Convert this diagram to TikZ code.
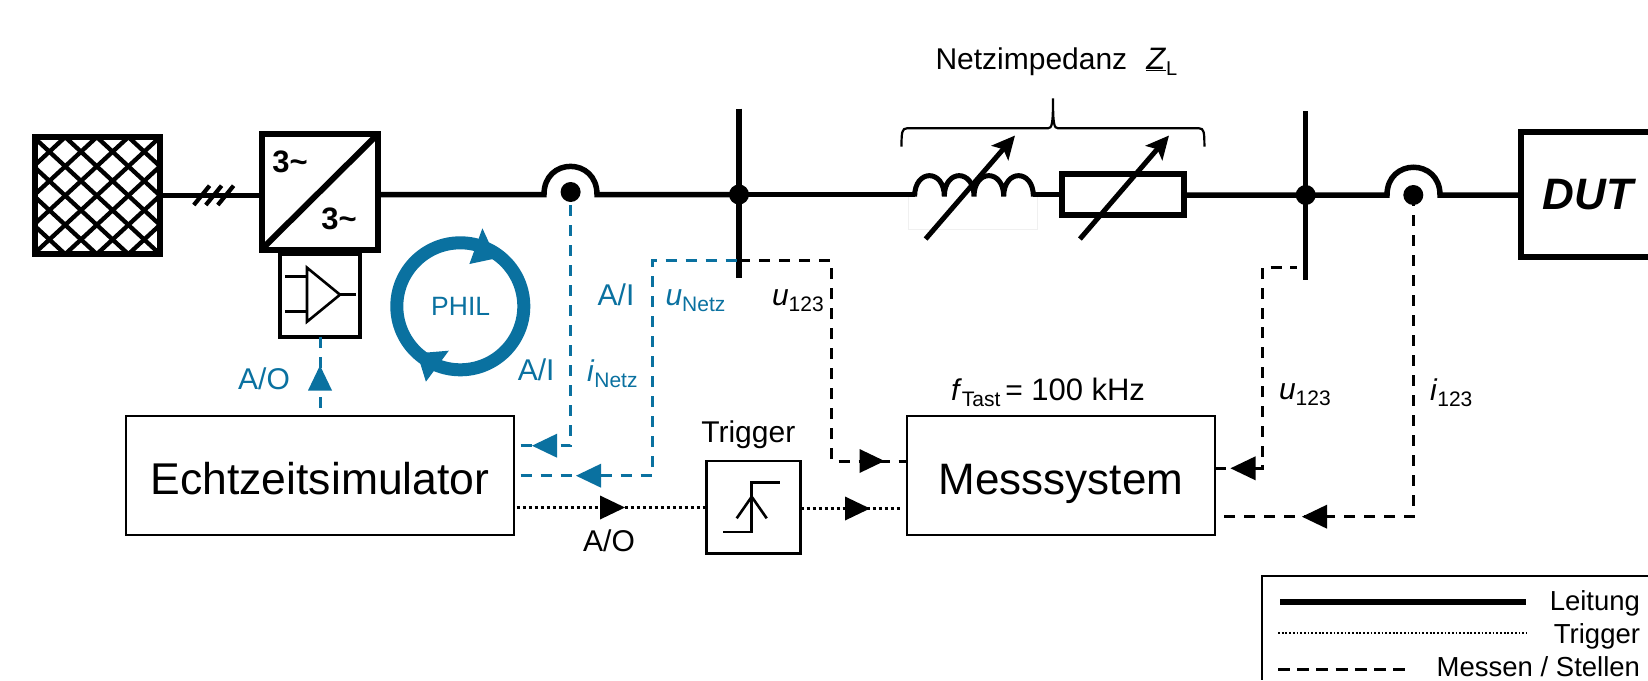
\documentclass[tikz,border=0pt]{standalone}
\usepackage{fontspec}
\setmainfont{Liberation Sans}
\usetikzlibrary{arrows.meta}
\definecolor{philblue}{HTML}{0A71A0}
\newcommand{\fs}[1]{\fontsize{#1}{#1}\selectfont}
\newcommand{\vsub}[2]{\textit{#1}\raisebox{-6.5pt}{\fs{21}#2}}
\tikzset{
  power/.style={line width=5.5pt,black},
  thick box/.style={draw=black,line width=6pt},
  frame box/.style={draw,line width=2.8pt,inner sep=0pt,outer sep=0pt},
  sym/.style={line width=2.6pt,black},
  meas/.style={line width=3pt,dash pattern=on 11pt off 9pt},
  trigline/.style={line width=3.2pt,dash pattern=on 2.8pt off 3.2pt},
  lab/.style={inner sep=0pt,outer sep=0pt,font=\fs{30}},
  labb/.style={lab,anchor=base west},
  tri/.pic={\fill (-12,-12) -- (13,0) -- (-12,12) -- cycle;},
  adj/.style={line width=5pt,-{Stealth[length=23pt,width=22pt,inset=5pt]}},
}
\begin{document}
\begin{tikzpicture}[x=1pt,y=-1pt]
\useasboundingbox (0,0) rectangle (1648,680);
\fill[white] (0,0) rectangle (1648,680);

% named points
\coordinate (gridE) at (160,195.5);
\coordinate (convW) at (261.5,195.5);
\coordinate (convE) at (378,194.5);
\coordinate (dotN) at (570.6,192);
\coordinate (busA) at (739,194.5);
\coordinate (busAt) at (739,108.5);
\coordinate (busAb) at (739,277.5);
\coordinate (busB) at (1305.7,195);
\coordinate (busBt) at (1305.7,111);
\coordinate (busBb) at (1305.7,280);
\coordinate (dotI) at (1413.3,195);
\coordinate (dutW) at (1520.5,195);
\coordinate (lfoot) at (914.6,194.5);
\coordinate (rfoot) at (1033.4,194.5);
\coordinate (rW) at (1061.5,194.5);
\coordinate (rE) at (1184,195);

% grid source
\begin{scope}
  \clip (34.5,137) rectangle (160,254);
  \foreach \k in {-6,...,10}{
    \draw[line width=4.3pt] ({81+31.6*\k-150},12.7) -- ({81+31.6*\k+150},290.7);
    \draw[line width=4.3pt] ({81+31.6*\k+150},12.7) -- ({81+31.6*\k-150},290.7);
  }
\end{scope}
\node[thick box,inner sep=0pt,outer sep=0pt,minimum width=125.5pt,minimum height=117pt] (grid) at (97.25,195.5) {};

% main line
\draw[power] (gridE) -- (convW);
\foreach \i in {0,1,2}
  \draw[line width=4.2pt] ({193.8+12*\i},205) -- ({209.6+12*\i},185.7);

% converter
\node[thick box,inner sep=0pt,outer sep=0pt,minimum width=116.5pt,minimum height=115.5pt] (conv) at (319.75,191.75) {};
\draw[line width=6pt] (conv.north east) -- (conv.south west);
\node[lab,font=\fs{31}\bfseries] (c1) at (290,161.7) {3\char"7E};
\node[lab,font=\fs{31}\bfseries] (c2) at (339,219.3) {3\char"7E};

% amplifier
\node[draw,line width=4pt,inner sep=0pt,outer sep=0pt,minimum width=80pt,minimum height=83.5pt] (amp) at (320,295.25) {};
\draw[sym,line join=miter] (307,267.7) -- (340,294.7) -- (307,321.7) -- cycle;
\draw[sym] (285,276.7) -- (307,276.7) (285,311.3) -- (307,311.3) (340,294.7) -- (356,294.7);

% main line onward
\draw[power] (convE) -- (544,194.5) .. controls (544,157) and (597,157) .. (597,194.5) -- (busA);
\draw[power] (busAt) -- (busAb);

% inductor
\draw[gray!12,line width=.8pt] (908.6,196.7) -- (908.6,229) -- (1037,229) -- (1037,196.7);
\draw[power] (busA) -- (lfoot);
\draw[line width=5pt]
  (914.6,196.5) .. controls (914.6,168.7) and (944.3,168.7) .. (944.3,196.5)
  .. controls (944.3,168.7) and (974,168.7) .. (974,196.5)
  .. controls (974,168.7) and (1003.7,168.7) .. (1003.7,196.5)
  .. controls (1003.7,168.7) and (1033.4,168.7) .. (1033.4,196.5);
\draw[power] (rfoot) -- (rW);
\draw[adj] (925.6,239) -- (1015,135.5);

% resistor
\node[thick box,inner sep=0pt,outer sep=0pt,minimum width=122.5pt,minimum height=41pt] (res) at (1122.75,194.5) {};
\draw[adj] (1079.9,239) -- (1169,135.5);
\draw[power] (rE) -- (busB) -- (1387,195) .. controls (1387,158) and (1440,158) .. (1440,195) -- (dutW);
\draw[power] (busBt) -- (busBb);

% impedance brace
\draw[line width=2.2pt] (901.5,146.7) .. controls (901.5,132) and (902,128.3) .. (907,128.3)
  -- (1048,128.3) .. controls (1052,128.3) and (1053,124) .. (1053,98.3)
  .. controls (1053,124) and (1054,128.3) .. (1058,128.3)
  -- (1199,128.3) .. controls (1204,128.3) and (1204.4,132) .. (1204.4,146.7);
\node[labb] (zl) at (935.5,69) {Netzimpedanz\hspace{19pt}\underline{\textit{\fs{31}Z}}\raisebox{-6pt}{\fs{20}L}};

% DUT
\draw[line width=6pt] (1648,131.5) -- (1520.5,131.5) -- (1520.5,256.5) -- (1648,256.5);
\node[lab,font=\fs{44}\bfseries\itshape] (dut) at (1587.7,195) {DUT};

% main boxes
\node[frame box,minimum width=388pt,minimum height=119pt,font=\fs{44.5},text height=40pt,text depth=3pt] (echt) at (320,475.5) {Echtzeitsimulator};
\node[frame box,minimum width=308pt,minimum height=119pt,font=\fs{44},text height=40pt,text depth=3pt] (mess) at (1061,475.5) {Messsystem};
\node[frame box,minimum width=94pt,minimum height=92.7pt] (trig) at (753.7,507.35) {};
\draw[sym] (723.3,532) -- (751.7,532) -- (751.7,482.7) -- (780,482.7);
\draw[sym] (736.7,518.3) -- (751.7,496.7) -- (766.7,518.3);

% named connector ends
\coordinate (echtTop) at (320,416);
\coordinate (inI) at (520.7,445.7);
\coordinate (inU) at (520.7,475.7);
\coordinate (blueU) at (652,260.7);
\coordinate (blackU) at (831.7,260.7);
\coordinate (inMU) at (906.7,461);
\coordinate (outEA) at (516.7,507.5);
\coordinate (inMT) at (900.7,508.5);
\coordinate (busBm) at (1297,267.7);
\coordinate (inMR) at (1215,468.3);
\coordinate (inMI) at (1222,516.7);

% blue signals
\draw[meas,draw=philblue] (amp.south) -- (echtTop);
\draw[meas,draw=philblue] (inI) -| (dotN);
\draw[meas,draw=philblue] (inU) -| (blueU) -- (busA |- blueU);
\pic[color=philblue,rotate=90] at (320,378.5) {tri};
\pic[color=philblue,rotate=180] at (545,445.7) {tri};
\pic[color=philblue,rotate=180] at (589,475.7) {tri};
\fill[philblue] (482.4,228.3) -- (496.2,258.3) -- (469.4,264) -- cycle;
\fill[philblue] (448.8,350.7) -- (425.9,381.7) -- (417.2,353.3) -- cycle;
\draw[philblue,line width=13pt] (460.3,306.3) circle [radius=63.5pt];
\node[lab,text=philblue,font=\fs{26.5}] (phil) at (460.7,306.7) {PHIL};
\node[lab,text=philblue] (ao1) at (264,379) {A/O};
\node[lab,text=philblue] (ai1) at (536.2,369.3) {A/I};
\node[lab,text=philblue] (ai2) at (616,295) {A/I};
\node[labb,text=philblue] (un) at (665.5,305) {\vsub{u}{Netz}};
\node[labb,text=philblue] (in) at (587,381) {\vsub{i}{Netz}};

% black measuring signals
\draw[meas] (busA |- blackU) -- (blackU) |- (inMU);
\draw[meas,dash pattern=on 11pt off 8.7pt] (inMR) -- (1262.3,468.3) |- (busBm);
\draw[meas] (dotI) |- (inMI);
\pic[rotate=0] at (871.5,461) {tri};
\pic[rotate=180] at (1243.5,468.3) {tri};
\pic[rotate=180] at (1315,516.7) {tri};
\node[labb] (u1) at (772,305) {\vsub{u}{123}};
\node[labb] (u2) at (1279,399) {\vsub{u}{123}};
\node[labb] (i1) at (1430,400) {\vsub{i}{123}};
\node[labb] (ft) at (951,400) {\vsub{f}{Tast}\,= \fs{31}100 kHz};

% trigger signals
\draw[trigline] (outEA) -- (trig.west |- outEA);
\draw[trigline] (trig.east |- inMT) -- (inMT);
\pic at (612,507.5) {tri};
\pic at (857,508.5) {tri};
\node[lab] (ao2) at (609,541) {A/O};
\node[lab] (tr) at (748.3,435) {Trigger};

% junction dots
\fill (busA) circle [radius=10pt];
\fill (busB) circle [radius=10pt];
\fill (dotN) circle [radius=10pt];
\fill (dotI) circle [radius=10pt];

% legend
\draw[line width=2.8pt] (1648,576) -- (1262,576) -- (1262,680);
\coordinate (l1a) at (1280,601.7); \coordinate (l1b) at (1526,601.7);
\coordinate (l2a) at (1278,633.3); \coordinate (l2b) at (1527,633.3);
\coordinate (l3a) at (1278,669); \coordinate (l3b) at (1411,669);
\draw[line width=6pt] (l1a) -- (l1b);
\draw[line width=2pt,dash pattern=on 1.8pt off 1.9pt] (l2a) -- (l2b);
\draw[line width=3pt,dash pattern=on 12pt off 7.2pt] (l3a) -- (l3b);
\node[lab,anchor=base east,font=\fs{27.5}] (t1) at (1640,610) {Leitung};
\node[lab,anchor=base east,font=\fs{27.5}] (t2) at (1640,643) {Trigger};
\node[lab,anchor=base east,font=\fs{27.5}] (t3) at (1640,676.7) {Messen / Stellen};
\end{tikzpicture}
\end{document}
